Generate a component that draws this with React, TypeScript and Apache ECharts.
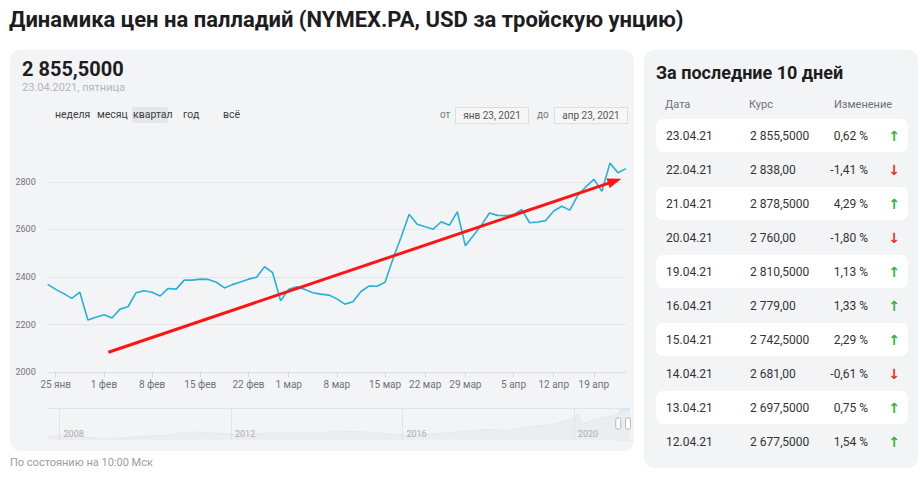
import React, { useEffect, useRef } from "react";
import * as echarts from "echarts";

// ---------- main series (trading days, quarter view) ----------
const dates = [
  "23.01",
  "25.01", "26.01", "27.01", "28.01", "29.01", "30.01",
  "01.02", "02.02", "03.02", "04.02", "05.02", "06.02",
  "08.02", "09.02", "10.02", "11.02", "12.02", "13.02",
  "15.02", "16.02", "17.02", "18.02", "19.02", "20.02",
  "22.02", "24.02", "25.02", "26.02", "27.02",
  "01.03", "02.03", "03.03", "04.03", "05.03", "06.03",
  "08.03", "09.03", "10.03", "11.03", "12.03", "13.03",
  "15.03", "16.03", "17.03", "18.03", "19.03",
  "22.03", "23.03", "24.03", "25.03", "26.03",
  "29.03", "30.03", "31.03", "01.04", "02.04", "03.04",
  "05.04", "06.04", "07.04", "08.04", "09.04",
  "12.04", "13.04", "14.04", "15.04", "16.04",
  "19.04", "20.04", "21.04", "22.04", "23.04",
];
const prices = [
  2369,
  2348, 2330, 2310, 2336, 2219, 2231,
  2241, 2228, 2265, 2275, 2334, 2342,
  2336, 2320, 2352, 2349, 2387, 2387,
  2391, 2390, 2378, 2354, 2368, 2379,
  2391, 2399, 2443, 2418, 2300,
  2348, 2359, 2348, 2334, 2328, 2324,
  2308, 2286, 2296, 2339, 2362, 2361,
  2378, 2478, 2567, 2664, 2622,
  2611, 2601, 2632, 2617, 2674,
  2531, 2574, 2618, 2669, 2659, 2658,
  2660, 2684, 2628, 2631, 2637,
  2677.5, 2697.5, 2681, 2742.5, 2779,
  2810.5, 2760, 2878.5, 2838, 2855.5,
];
const tickDates = ["25.01", "01.02", "08.02", "15.02", "22.02", "01.03", "08.03", "15.03", "22.03", "29.03", "05.04", "12.04", "19.04"];
const tickLabels = ["25 янв", "1 фев", "8 фев", "15 фев", "22 фев", "1 мар", "8 мар", "15 мар", "22 мар", "29 мар", "5 апр", "12 апр", "19 апр"];

// trend arrow (point index, price)
const trendFrom = [7.56, 2084];
const trendTo = [70.6, 2803];

// ---------- navigator (long history, faint) ----------
const navYears = [2007.74, 2008.2, 2008.9, 2009.5, 2009.9, 2010.5, 2010.9, 2011.2, 2011.9, 2012.5, 2012.9, 2013.5, 2013.9, 2014.6, 2015.3, 2015.9, 2016.1, 2016.9, 2017.5, 2017.9, 2018.5, 2018.9, 2019.5, 2019.9, 2020.1, 2020.2, 2020.5, 2020.9, 2021.31];
const navPrices = [370, 560, 190, 250, 400, 460, 780, 800, 640, 600, 700, 720, 720, 880, 770, 550, 490, 680, 850, 1050, 950, 1260, 1530, 1930, 2500, 1600, 2000, 2350, 2855];
const navSelection = [2021.06, 2021.31];

// ---------- last 10 days table ----------
const tableDates = ["23.04.21", "22.04.21", "21.04.21", "20.04.21", "19.04.21", "16.04.21", "15.04.21", "14.04.21", "13.04.21", "12.04.21"];
const tableRates = ["2 855,5000", "2 838,00", "2 878,5000", "2 760,00", "2 810,5000", "2 779,00", "2 742,5000", "2 681,00", "2 697,5000", "2 677,5000"];
const tableChanges = ["0,62 %", "-1,41 %", "4,29 %", "-1,80 %", "1,13 %", "1,33 %", "2,29 %", "-0,61 %", "0,75 %", "1,54 %"];

const periods = ["неделя", "месяц", "квартал", "год", "всё"];
const periodX = [55, 97, 133, 183, 223];

const FONT = "Roboto, 'Noto Sans', sans-serif";

const abs = (s: React.CSSProperties): React.CSSProperties => ({ position: "absolute", whiteSpace: "nowrap", ...s });

export default function App() {
  const ref = useRef<HTMLDivElement>(null);

  useEffect(() => {
    const chart = echarts.init(ref.current!, null, { renderer: "svg" });
    const labelMap: Record<string, string> = {};
    tickDates.forEach((d, i) => (labelMap[d] = tickLabels[i]));
    const isTick = (_i: number, v: string) => v in labelMap;

    chart.setOption({
      animation: false,
      textStyle: { fontFamily: FONT },
      grid: [
        { left: 37.7, top: 108, width: 578.3, height: 214.2 },
        { left: 38.4, top: 358.6, width: 581.6, height: 32 },
      ],
      xAxis: [
        {
          type: "category",
          gridIndex: 0,
          data: dates,
          boundaryGap: false,
          axisLine: { show: true, lineStyle: { color: "#d9dde4", width: 1 } },
          axisTick: { show: true, interval: isTick, length: 5, lineStyle: { color: "#d3d7de" } },
          axisLabel: {
            interval: isTick,
            formatter: (v: string) => labelMap[v] || "",
            color: "#6f737b",
            fontSize: 10,
            margin: 7,
          },
          splitLine: { show: false },
        },
        {
          type: "value",
          gridIndex: 1,
          z: 6,
          min: navYears[0],
          max: navYears[navYears.length - 1],
          minInterval: 4,
          maxInterval: 4,
          axisLine: { show: false },
          axisTick: { show: false },
          axisLabel: {
            inside: true,
            align: "left",
            formatter: (v: number) => (Math.abs(v - Math.round(v)) < 1e-6 && Math.round(v) % 4 === 0 ? String(Math.round(v)) : ""),
            color: "#a9adb5",
            fontSize: 9,
            margin: 2,
            padding: [0, 0, 0, 4],
            showMinLabel: false,
            showMaxLabel: false,
          },
          splitLine: {
            show: true,
            lineStyle: { color: ["rgba(0,0,0,0)", "#dfe2e7", "#dfe2e7", "#dfe2e7", "#dfe2e7", "rgba(0,0,0,0)"], width: 1 },
          },
        },
        { type: "value", gridIndex: 0, min: 0, max: dates.length - 1, show: false },
      ],
      yAxis: [
        {
          type: "value",
          gridIndex: 0,
          min: 2000,
          max: 2900,
          interval: 200,
          axisLine: { show: false },
          axisTick: { show: false },
          axisLabel: {
            color: "#6f737b",
            fontSize: 9,
            margin: 12,
            align: "right",
            formatter: (v: number) => (v > 2800 ? "" : String(v)),
          },
          splitLine: {
            show: true,
            lineStyle: { color: ["#e3e5ea", "#e3e5ea", "#e3e5ea", "#e3e5ea", "#e3e5ea", "rgba(0,0,0,0)"], width: 1 },
          },
        },
        {
          type: "value",
          gridIndex: 1,
          min: 0,
          max: 3000,
          interval: 3000,
          z: 6,
          axisLine: { show: false },
          axisTick: { show: false },
          axisLabel: { show: false },
          splitLine: { show: true, lineStyle: { color: ["rgba(0,0,0,0)", "#e1e3e8"] } },
        },
      ],
      series: [
        {
          type: "line",
          name: "NYMEX.PA",
          xAxisIndex: 0,
          yAxisIndex: 0,
          data: prices,
          showSymbol: false,
          symbol: "none",
          lineStyle: { color: "#27b1da", width: 1.6 },
          z: 3,
        },
        {
          type: "line",
          name: "trend",
          xAxisIndex: 2,
          yAxisIndex: 0,
          data: [trendFrom, trendTo],
          symbol: "none",
          lineStyle: { opacity: 0, width: 0 },
          z: 5,
          markLine: {
            silent: true,
            symbol: ["none", "triangle"],
            symbolSize: [10, 14],
            label: { show: false },
            lineStyle: { color: "#ff1414", width: 3, type: "solid" },
            data: [[{ coord: trendFrom }, { coord: trendTo }]],
          },
        },
        {
          type: "line",
          name: "history",
          xAxisIndex: 1,
          yAxisIndex: 1,
          z: 1,
          data: navYears.map((y, i) => [y, navPrices[i]]),
          symbol: "none",
          lineStyle: { color: "#e4e6ea", width: 0.8 },
          areaStyle: { color: "#ebedf0", opacity: 1 },
          markArea: {
            silent: true,
            itemStyle: { color: "rgba(186, 222, 238, 0.5)" },
            data: [[{ xAxis: navSelection[0] }, { xAxis: navSelection[1] }]],
          },
        },
      ],
    });

    const hx0 = chart.convertToPixel({ xAxisIndex: 1 }, navSelection[0]) as number;
    const hx1 = chart.convertToPixel({ xAxisIndex: 1 }, navSelection[1]) as number;
    const handle = (x: number) => ({
      type: "rect",
      shape: { x: x - 2.5, y: 368, width: 5, height: 11, r: 1.5 },
      style: { fill: "#ffffff", stroke: "#b3b7be", lineWidth: 1 },
      z: 10,
    });
    chart.setOption({ graphic: [handle(hx0 - 1), handle(hx1 - 2)] });

    return () => chart.dispose();
  }, []);

  return (
    <div style={{ position: "absolute", left: 0, top: 0, width: 920, height: 478, background: "#fff", fontFamily: FONT, overflow: "hidden" }}>
      <div style={abs({ left: 9, top: 6, fontSize: 22, fontWeight: 700, lineHeight: "28px", color: "#1d1d1f" })}>
        Динамика цен на палладий (NYMEX.PA, USD за тройскую унцию)
      </div>

      {/* left card */}
      <div style={abs({ left: 10, top: 50, width: 624, height: 401, background: "#f3f4f6", borderRadius: 10 })} />
      <div style={abs({ left: 22, top: 57, fontSize: 20, fontWeight: 700, lineHeight: "24px", color: "#1d1d1f" })}>2 855,5000</div>
      <div style={abs({ left: 22, top: 81, fontSize: 11, lineHeight: "14px", color: "#b3b6bd" })}>23.04.2021, пятница</div>
      <div style={abs({ left: 131.7, top: 106.7, width: 36.6, height: 16.6, background: "#e5e6ea", borderRadius: 2 })} />
      {periods.map((p, i) => (
        <div key={p} style={abs({ left: periodX[i], top: 108, fontSize: 10.5, lineHeight: "14px", color: "#3a3c40" })}>{p}</div>
      ))}
      <div style={abs({ left: 440, top: 108, fontSize: 10, lineHeight: "14px", color: "#777" })}>от</div>
      <div style={abs({ left: 455, top: 107, width: 72, height: 15, background: "#f7f7f8", border: "1px solid #dcdee2", fontSize: 10, lineHeight: "15px", color: "#555", textAlign: "center" })}>янв 23, 2021</div>
      <div style={abs({ left: 537, top: 108, fontSize: 10, lineHeight: "14px", color: "#777" })}>до</div>
      <div style={abs({ left: 554, top: 107, width: 72, height: 15, background: "#f7f7f8", border: "1px solid #dcdee2", fontSize: 10, lineHeight: "15px", color: "#555", textAlign: "center" })}>апр 23, 2021</div>

      <div ref={ref} style={abs({ left: 10, top: 50, width: 624, height: 400 })} />

      <div style={abs({ left: 10, top: 456, fontSize: 11, lineHeight: "14px", color: "#9a9da4" })}>По состоянию на 10:00 Мск</div>

      {/* right card */}
      <div style={abs({ left: 644, top: 50, width: 274, height: 418, background: "#f3f4f6", borderRadius: 10 })} />
      <div style={abs({ left: 656, top: 61, fontSize: 18, fontWeight: 700, lineHeight: "24px", color: "#1d1d1f" })}>За последние 10 дней</div>
      <div style={abs({ left: 665, top: 98, fontSize: 11, lineHeight: "14px", color: "#6e7178" })}>Дата</div>
      <div style={abs({ left: 749, top: 98, fontSize: 11, lineHeight: "14px", color: "#6e7178" })}>Курс</div>
      <div style={abs({ left: 834, top: 98, fontSize: 11, lineHeight: "14px", color: "#6e7178" })}>Изменение</div>
      {tableDates.map((d, i) => {
        const cy = 135.7 + 34 * i;
        const up = !tableChanges[i].startsWith("-");
        return (
          <React.Fragment key={d}>
            {i % 2 === 0 && (
              <div style={abs({ left: 656, top: cy - 16.5, width: 252, height: 33, background: "#ffffff", borderRadius: 7 })} />
            )}
            <div style={abs({ left: 666, top: cy - 8, fontSize: 12, lineHeight: "16px", color: "#333" })}>{d}</div>
            <div style={abs({ left: 750, top: cy - 8, fontSize: 12, lineHeight: "16px", color: "#333" })}>{tableRates[i]}</div>
            <div style={abs({ right: 920 - 868, top: cy - 8, fontSize: 12, lineHeight: "16px", color: "#333", textAlign: "right" })}>{tableChanges[i]}</div>
            <div style={abs({ left: 887, top: cy - 9, width: 14, fontSize: 14, fontWeight: 700, lineHeight: "18px", textAlign: "center", fontFamily: "'DejaVu Sans', sans-serif", color: up ? "#2fb344" : "#e8332b" })}>
              {up ? "↑" : "↓"}
            </div>
          </React.Fragment>
        );
      })}
    </div>
  );
}
